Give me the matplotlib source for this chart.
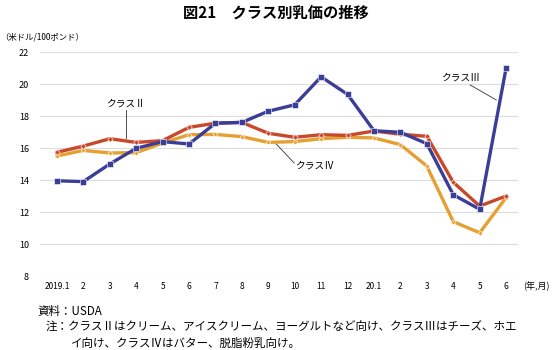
import matplotlib
matplotlib.use("Agg")
import matplotlib.pyplot as plt
import numpy as np

plt.rcParams['font.family'] = ['Noto Sans CJK JP', 'DejaVu Sans']

# data (米ドル/100ポンド)
months = ["2019.1", "2", "3", "4", "5", "6", "7", "8", "9", "10", "11", "12",
          "20.1", "2", "3", "4", "5", "6"]
class2 = [15.73, 16.12, 16.58, 16.35, 16.46, 17.29, 17.55, 17.6, 16.92, 16.67,
          16.83, 16.79, 17.06, 16.86, 16.73, 13.86, 12.37, 13.0]
class3 = [13.95, 13.9, 15.0, 15.98, 16.4, 16.25, 17.55, 17.6, 18.3, 18.7,
          20.45, 19.35, 17.08, 16.98, 16.27, 13.08, 12.17, 21.0]
class4 = [15.5, 15.85, 15.69, 15.71, 16.31, 16.83, 16.85, 16.71, 16.35, 16.4,
          16.58, 16.67, 16.63, 16.21, 14.87, 11.4, 10.7, 12.9]

c_blue = '#3b3e96'
c_red = '#c9482b'
c_orange = '#e5a031'

fig = plt.figure(figsize=(5.52, 3.5), dpi=100)
ax = fig.add_axes([40/552, 1 - 276/350, (518-40)/552, (276-52)/350])

x = np.arange(len(months))
ax.plot(x, class4, color=c_orange, lw=2.4, marker='D', ms=2.5,
        markerfacecolor=c_orange, markeredgecolor='white', markeredgewidth=0.4, zorder=3)
ax.plot(x, class2, color=c_red, lw=2.4, marker='D', ms=2.8,
        markerfacecolor=c_red, markeredgecolor='white', markeredgewidth=0.4, zorder=4)
ax.plot(x, class3, color=c_blue, lw=2.4, marker='s', ms=4,
        markerfacecolor=c_blue, markeredgecolor='white', markeredgewidth=0.4, zorder=5)

ax.set_xlim(-0.64, 17.45)
ax.set_ylim(8, 22)
ax.set_yticks(np.arange(8, 23, 2))
ax.set_xticks(x)
ax.set_xticklabels(months, fontsize=6)
ax.tick_params(axis='y', labelsize=6.5, length=0, pad=8)
ax.tick_params(axis='x', length=0, pad=4)
ax.grid(axis='y', color='#dddddd', lw=0.8)
ax.set_axisbelow(True)
for s in ax.spines.values():
    s.set_visible(False)

# labels
ax.text(2.58, 18.8, "クラスⅡ", fontsize=7, ha='center', va='center')
ax.plot([2.62, 2.62], [18.4, 16.6], color='#333333', lw=0.6)
ax.text(9.0, 14.92, "クラスⅣ", fontsize=7, ha='left', va='center')
ax.plot([8.3, 8.98], [16.25, 15.06], color='#333333', lw=0.6)
ax.text(15.26, 20.4, "クラスⅢ", fontsize=7, ha='center', va='center')
ax.plot([15.64, 16.63], [19.94, 19.0], color='#333333', lw=0.6)

fig.text(550/552, 1 - 286/350, "(年,月)", fontsize=6.5, ha='right', va='center')

fig.text(0.5, 1 - 13/350, "図21　クラス別乳価の推移", fontsize=11, fontweight='bold',
         ha='center', va='center')
fig.text(0/552, 1 - 37/350, "（米ドル/100ポンド）", fontsize=6, ha='left', va='center')

fig.text(37/552, 1 - 311/350, "資料：USDA", fontsize=8.3, ha='left', va='center')
fig.text(46/552, 1 - 327/350,
         "注：クラスⅡはクリーム、アイスクリーム、ヨーグルトなど向け、クラスⅢはチーズ、ホエ",
         fontsize=8.3, ha='left', va='center')
fig.text(71/552, 1 - 343/350, "イ向け、クラスⅣはバター、脱脂粉乳向け。",
         fontsize=8.3, ha='left', va='center')

fig.savefig("out.png", dpi=100)
